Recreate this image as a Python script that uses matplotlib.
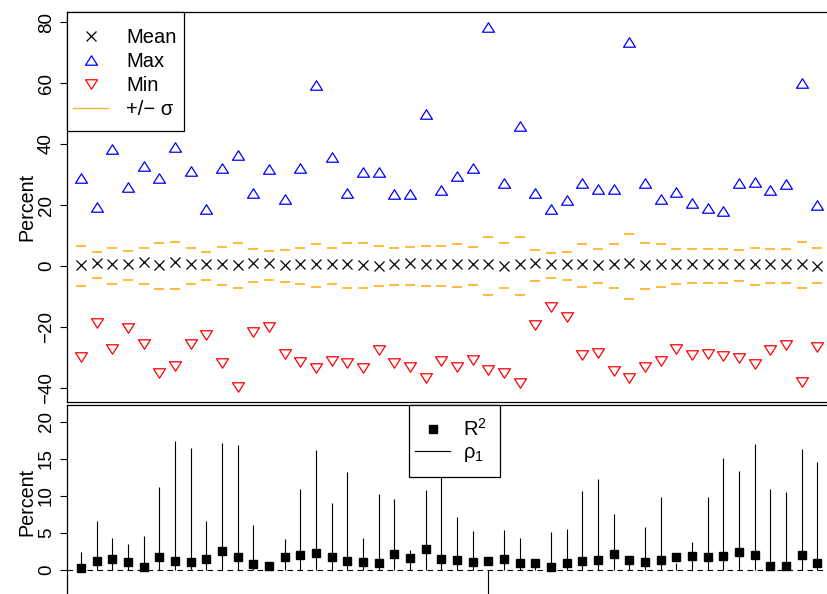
import numpy as np
import matplotlib.pyplot as plt
from matplotlib.lines import Line2D
from matplotlib.patches import Rectangle
from matplotlib.path import Path
from matplotlib.transforms import IdentityTransform

plt.rcParams['font.family'] = ['Liberation Sans', 'DejaVu Sans']
plt.rcParams['mathtext.fontset'] = 'custom'
plt.rcParams['mathtext.rm'] = 'Liberation Sans'
plt.rcParams['mathtext.it'] = 'Liberation Sans:italic'

# values (percent)
max_pct = [28.7, 19.5, 38.4, 26.0, 32.9, 28.7, 39.1, 31.3, 18.6, 32.2,
           36.4, 24.0, 31.7, 21.9, 32.3, 59.3, 35.8, 23.8, 30.7, 30.7,
           23.5, 23.5, 49.8, 24.9, 29.6, 32.2, 78.5, 27.3, 45.9, 24.0,
           18.7, 21.6, 27.1, 25.2, 25.2, 73.6, 27.3, 22.0, 24.4, 20.8,
           18.9, 18.0, 27.1, 27.6, 24.9, 26.8, 60.1, 20.0, 20.0]
min_pct = [-29.7, -18.6, -27.3, -20.4, -25.6, -35.2, -32.8, -25.6, -22.6, -31.7,
           -39.8, -21.5, -19.9, -28.9, -31.4, -33.5, -31.0, -31.9, -33.3, -27.5,
           -31.9, -33.0, -36.8, -31.2, -33.2, -30.8, -34.1, -35.2, -38.5, -19.3,
           -13.3, -16.8, -29.2, -28.6, -34.3, -36.8, -33.0, -31.2, -27.3, -29.2,
           -28.9, -29.5, -30.3, -32.1, -27.5, -26.0, -38.1, -26.7, -26.5]
mean_pct = [0.33, 0.87, 0.66, 0.66, 1.20, 0.44, 1.20, 0.66, 0.66, 0.66,
            0.22, 1.09, 1.09, 0.33, 0.66, 0.66, 0.66, 0.66, 0.22, 0.11,
            0.66, 1.09, 0.66, 0.66, 0.66, 0.66, 0.66, 0.11, 0.66, 1.09,
            0.66, 0.66, 0.66, 0.44, 0.66, 1.09, 0.22, 0.66, 0.66, 0.66,
            0.66, 0.66, 0.66, 0.66, 0.66, 0.66, 0.66, 0.11, 0.66]
sd_hi = [6.67, 4.48, 6.01, 5.03, 6.01, 7.43, 7.76, 6.01, 4.70, 6.34,
         7.43, 5.68, 5.03, 5.36, 6.01, 7.10, 6.01, 7.43, 7.43, 6.67,
         6.01, 6.34, 6.67, 6.67, 7.10, 6.34, 9.62, 7.43, 9.62, 5.36,
         4.15, 4.70, 7.10, 5.68, 7.10, 10.6, 7.43, 7.10, 5.68, 5.68,
         5.68, 5.68, 5.36, 6.01, 5.68, 5.68, 7.76, 6.01, 6.34]
sd_lo = [-6.45, -4.05, -5.90, -4.70, -5.90, -7.43, -7.43, -5.90, -4.70, -6.23,
         -7.10, -5.36, -4.70, -5.36, -5.90, -6.78, -5.90, -7.10, -7.10, -6.45,
         -6.23, -6.23, -6.45, -6.45, -6.78, -6.23, -9.51, -7.10, -9.51, -5.03,
         -3.83, -4.48, -6.78, -5.47, -7.10, -10.7, -7.43, -6.78, -5.90, -5.47,
         -5.47, -5.47, -5.03, -6.23, -5.70, -5.70, -7.10, -5.70, -6.60]
r2 = [0.23, 1.26, 1.49, 1.13, 0.36, 1.71, 1.26, 1.13, 1.49, 2.57,
      1.71, 0.77, 0.59, 1.71, 2.03, 2.25, 1.71, 1.26, 1.13, 0.90,
      2.12, 1.58, 2.84, 1.49, 1.35, 1.13, 1.22, 1.49, 0.90, 0.90,
      0.36, 0.90, 1.20, 1.30, 2.10, 1.30, 1.04, 1.30, 1.70, 1.85,
      1.71, 1.89, 2.39, 2.03, 0.56, 0.56, 2.03, 0.99, 1.20]
rho1 = [2.48, 6.62, 4.28, 3.47, 4.59, 11.26, 17.34, 16.44, 6.67, 17.07,
        16.85, 6.08, 0.40, 4.14, 10.90, 16.20, 9.00, 13.20, 4.28, 10.30,
        9.60, 2.70, 10.80, 18.00, 7.20, 5.27, -5.00, 5.40, 4.37, 0.50,
        5.10, 5.50, 10.68, 12.25, 7.50, 0.80, 5.80, 9.86, 1.00, 3.80,
        9.86, 15.05, 13.29, 16.98, 10.95, 10.50, 16.30, 14.60, 8.00]

x = np.arange(1, len(max_pct) + 1)

W, H = 827, 594
fs = 13.5          # tick labels
lab_fs = 14.2      # axis labels
lfs = 14.5         # legends
lfs_px = lfs * 100 / 72
orange = '#FFB52E'

def fx(p):
    return p / W

def fy(p):
    return 1 - p / H

fig = plt.figure(figsize=(W / 100, H / 100), dpi=100)

# x scale: 15.67 px per series, axes run past the right edge like the original
xmin, xmax = 0.107, 52
width_px = (xmax - xmin) * 15.67
ax1 = fig.add_axes([fx(67), fy(402), width_px / W, (402 - 12) / H])
ax2 = fig.add_axes([fx(67), fy(614.5), width_px / W, (614.5 - 405) / H])

codes = [Path.MOVETO, Path.LINETO, Path.LINETO, Path.CLOSEPOLY]
tri_up = Path([(0, 4.75), (-6, -4.75), (6, -4.75), (0, 0)], codes)
tri_dn = Path([(0, -4.75), (-6, 4.75), (6, 4.75), (0, 0)], codes)

ax1.plot(x, mean_pct, ls='none', marker='x', ms=6.7, mew=0.9, color='k')
ax1.plot(x, max_pct, ls='none', marker=tri_up, ms=8.6, mfc='none', mec='blue', mew=0.9)
ax1.plot(x, min_pct, ls='none', marker=tri_dn, ms=8.6, mfc='none', mec='red', mew=0.9)
ax1.plot(x, sd_hi, ls='none', marker='_', ms=7.4, mew=1.3, color=orange)
ax1.plot(x, sd_lo, ls='none', marker='_', ms=7.4, mew=1.3, color=orange)
ax1.set_xlim(xmin, xmax)
ax1.set_ylim(-44.6, 83.3)
ax1.set_yticks([-40, -20, 0, 20, 40, 60, 80])

ax2.axhline(0, color='k', lw=0.8, ls=(0, (5, 4)), zorder=1)
ax2.vlines(x, 0, rho1, colors='k', lw=0.8, zorder=2)
ax2.plot(x, r2, ls='none', marker='s', ms=6, color='k', zorder=3)
ax2.set_xlim(xmin, xmax)
ax2.set_ylim(-6, 22.25)
ax2.set_yticks([0, 5, 10, 15, 20])

for ax, ly in [(ax1, 0.5), (ax2, 0.537)]:
    ax.set_xticks([])
    for s in ax.spines.values():
        s.set_linewidth(0.9)
        s.set_color('k')
    ax.tick_params(axis='y', direction='out', length=5, width=0.8, pad=3.6,
                   labelsize=fs, labelrotation=90)
    for lbl in ax.get_yticklabels():
        lbl.set_va('center')
    ax.set_ylabel('Percent', fontsize=lab_fs)
    ax.yaxis.set_label_coords((36 - 67) / width_px, ly)

h1 = [Line2D([], [], ls='none', marker='x', ms=6.7, mew=0.9, color='k'),
      Line2D([], [], ls='none', marker=tri_up, ms=8.6, mfc='none', mec='blue', mew=0.9),
      Line2D([], [], ls='none', marker=tri_dn, ms=8.6, mfc='none', mec='red', mew=0.9),
      Line2D([], [], color=orange, lw=1)]
leg1 = fig.legend(h1, ['Mean', 'Max', 'Min', '+/\u2212 \u03c3'], loc='upper left',
                  bbox_to_anchor=(fx(73), fy(28.3)), bbox_transform=fig.transFigure,
                  frameon=False, borderpad=0, borderaxespad=0, fontsize=lfs,
                  handlelength=35 / lfs_px, handleheight=0.7,
                  handletextpad=18 / lfs_px, labelspacing=0.245)

h2 = [Line2D([], [], ls='none', marker='s', ms=5.5, color='k'),
      Line2D([], [], color='k', lw=0.8)]
leg2 = fig.legend(h2, ['R$^2$', '\u03c1$_1$'], loc='upper left',
                  bbox_to_anchor=(fx(415), fy(417.8)), bbox_transform=fig.transFigure,
                  frameon=False, borderpad=0, borderaxespad=0, fontsize=lfs,
                  handlelength=35 / lfs_px, handleheight=0.7,
                  handletextpad=12.7 / lfs_px, labelspacing=0.174)

# R-style legend boxes: more padding above/below than at the sides
fig.canvas.draw()
for leg, (pl, pr, pt, pb) in [(leg1, (6, 8, 16.3, 12)), (leg2, (6, 13, 12.8, 12.3))]:
    bb = leg.get_window_extent()
    rect = Rectangle((bb.x0 - pl, bb.y0 - pb), bb.width + pl + pr, bb.height + pt + pb,
                     transform=IdentityTransform(), fc='white', ec='k', lw=0.9, zorder=4.9)
    fig.add_artist(rect)

fig.savefig('out.png', dpi=100)
